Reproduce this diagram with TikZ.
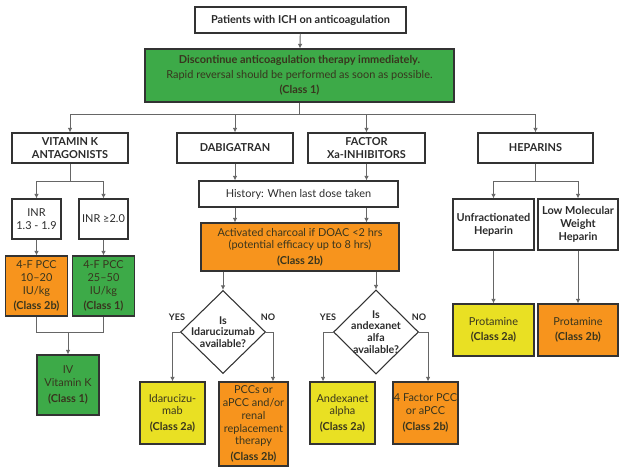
\documentclass[tikz,border=0pt]{standalone}
\usepackage{fontspec}
\setmainfont{Lato}
\usetikzlibrary{arrows.meta}
\usetikzlibrary{shapes.geometric}
\definecolor{boxgreen}{HTML}{3DAA48}
\definecolor{boxorange}{HTML}{F7941D}
\definecolor{boxyellow}{HTML}{E9E023}
\definecolor{boxline}{HTML}{333333}
\definecolor{conline}{HTML}{666666}
\definecolor{txt}{HTML}{2A2A2A}
\definecolor{ctxt}{HTML}{38351E}

\begin{document}
\begin{tikzpicture}[x=0.75pt,y=-0.75pt,>={Latex[length=3.5pt,width=3.5pt]},
	font=\fontsize{8.2}{9.6}\selectfont,
	box/.style={rectangle, draw=boxline, line width=0.8pt, inner xsep=0.5pt, inner ysep=1pt, align=center, text=txt},
	sz/.style 2 args={minimum width=#1*0.75pt, minimum height=#2*0.75pt},
	green/.style={box, fill=boxgreen, text=ctxt},
	orange/.style={box, fill=boxorange, text=ctxt},
	yellow/.style={box, fill=boxyellow, text=ctxt},
	dia/.style={diamond, draw=boxline, line width=0.8pt, fill=white, inner sep=0pt, shape aspect=1},
	dtext/.style={align=center, text=txt, font=\fontsize{8}{8.8}\selectfont\bfseries},
	yn/.style={text=txt, font=\fontsize{6.8}{7}\selectfont\bfseries},
	con/.style={draw=conline, line width=0.7pt}]
	\useasboundingbox (0,0) rectangle (624,471);
	% top of the tree
	\node[box, sz={211}{26}] (top) at (300.5,20) {\textbf{Patients with ICH on anticoagulation}};
	\node[green, sz={309}{53}] (disc) at (299.5,75.5) {\textbf{Discontinue anticoagulation therapy immediately.}\\[1.5pt]Rapid reversal should be performed as soon as possible.\\[2pt]\textbf{(Class 1)}};
	\coordinate (split) at (299.5,114);
	\node[box, sz={116}{30}] (vka) at (70,148) {\textbf{VITAMIN K}\\\textbf{ANTAGONISTS}};
	\node[box, sz={116}{30}] (dabi) at (235,148) {\textbf{DABIGATRAN}};
	\node[box, sz={117}{30}] (fxa) at (366.5,148) {\textbf{FACTOR}\\\textbf{Xa-INHIBITORS}};
	\node[box, sz={115}{30}] (hep) at (535.5,148) {\textbf{HEPARINS}};
	\draw[con,->] (top) -- (disc);
	\draw[con] (disc.south) -- (split);
	\draw[con,->] (split) -| (vka.north);
	\draw[con,->] (split) -| (dabi.north);
	\draw[con,->] (split) -| (fxa.north);
	\draw[con,->] (split) -| (hep.north);
	% vitamin K antagonists
	\coordinate (vkasplit) at (70,181);
	\node[box, sz={49}{40}] (inra) at (36.5,219) {INR\\1.3 - 1.9};
	\node[box, sz={49}{40}] (inrb) at (103.5,219) {INR ≥2.0};
	\node[orange, sz={62}{60}] (pcca) at (36.5,286) {4-F PCC\\10–20\\IU/kg\\[2pt]\textbf{(Class 2b)}};
	\node[green, sz={62}{60}] (pccb) at (103.5,286) {4-F PCC\\25–50\\IU/kg\\[2pt]\textbf{(Class 1)}};
	\coordinate (pccjoin) at (68,332);
	\node[green, sz={62}{60}] (ivk) at (68,385) {IV\\Vitamin K\\[2pt]\textbf{(Class 1)}};
	\draw[con] (vka.south) -- (vkasplit);
	\draw[con,->] (vkasplit) -| (inra.north);
	\draw[con,->] (vkasplit) -| (inrb.north);
	\draw[con,->] (inra.south) -- (pcca.north);
	\draw[con,->] (inrb.south) -- (pccb.north);
	\draw[con] (pcca.south) |- (pccjoin);
	\draw[con] (pccb.south) |- (pccjoin);
	\draw[con,->] (pccjoin) -- (ivk.north);
	% DOACs
	\node[box, sz={199}{26}] (hist) at (298.5,194) {History: When last dose taken};
	\node[orange, sz={198}{48}] (charc) at (300,247) {Activated charcoal if DOAC <2 hrs\\(potential efficacy up to 8 hrs)\\[2pt]\textbf{(Class 2b)}};
	\draw[con,->] (dabi.south) -- (hist.north -| dabi.south);
	\draw[con,->] (fxa.south) -- (hist.north -| fxa.south);
	\draw[con,->] (hist.south -| dabi.south) -- (charc.north -| dabi.south);
	\draw[con,->] (hist.south -| fxa.south) -- (charc.north -| fxa.south);
	\node[dia, minimum width=85*0.75pt, minimum height=83*0.75pt] (dida) at (223,332) {};
	\node[dtext] (dida-t) at (dida) {Is\\Idarucizumab\\available?};
	\node[dia, minimum width=85*0.75pt, minimum height=84*0.75pt] (dand) at (376,332) {};
	\node[dtext] (dand-t) at (dand) {Is\\andexanet\\alfa\\available?};
	\draw[con,->] (charc.south -| dida.north) -- (dida.north);
	\draw[con,->] (charc.south -| dand.north) -- (dand.north);
	\node[yn] (yesa) at (177,317) {YES};
	\node[yn] (noa) at (268,317) {NO};
	\node[yn] (yesb) at (328,317) {YES};
	\node[yn] (nob) at (419,317) {NO};
	\node[yellow, sz={65}{62}] (idaru) at (172.5,413) {Idarucizu-\\mab\\[2pt]\textbf{(Class 2a)}};
	\node[orange, sz={69}{84}] (pccs) at (253.5,424) {PCCs or\\aPCC and/or\\renal\\replacement\\therapy\\[2pt]\textbf{(Class 2b)}};
	\node[yellow, sz={65}{62}] (andex) at (342.5,413) {Andexanet\\alpha\\[2pt]\textbf{(Class 2a)}};
	\node[orange, sz={65}{62}] (fpcc) at (425.5,413) {4 Factor PCC\\or aPCC\\[2pt]\textbf{(Class 2b)}};
	\draw[con,->] (dida.west) -| (idaru.north);
	\draw[con,->] (dida.east) -| ([xshift=14.6pt]pccs.north);
	\draw[con,->] (dand.west) -| ([xshift=-14.6pt]andex.north);
	\draw[con,->] (dand.east) -| ([xshift=1.9pt]fpcc.north);
	% heparins
	\coordinate (hepsplit) at (535.5,181);
	\node[box, sz={81}{51}] (ufh) at (493.5,224.5) {\textbf{Unfractionated}\\\textbf{Heparin}};
	\node[box, sz={80}{51}] (lmwh) at (578,224.5) {\textbf{Low Molecular}\\\textbf{Weight}\\\textbf{Heparin}};
	\node[yellow, sz={81}{52}] (prota) at (493.5,330) {Protamine\\[2pt]\textbf{(Class 2a)}};
	\node[orange, sz={80}{52}] (protb) at (578,330) {Protamine\\[2pt]\textbf{(Class 2b)}};
	\draw[con] (hep.south) -- (hepsplit);
	\draw[con,->] (hepsplit) -| (ufh.north);
	\draw[con,->] (hepsplit) -| (lmwh.north);
	\draw[con,->] (ufh.south) -- (prota.north);
	\draw[con,->] (lmwh.south) -- (protb.north);
\end{tikzpicture}
\end{document}
